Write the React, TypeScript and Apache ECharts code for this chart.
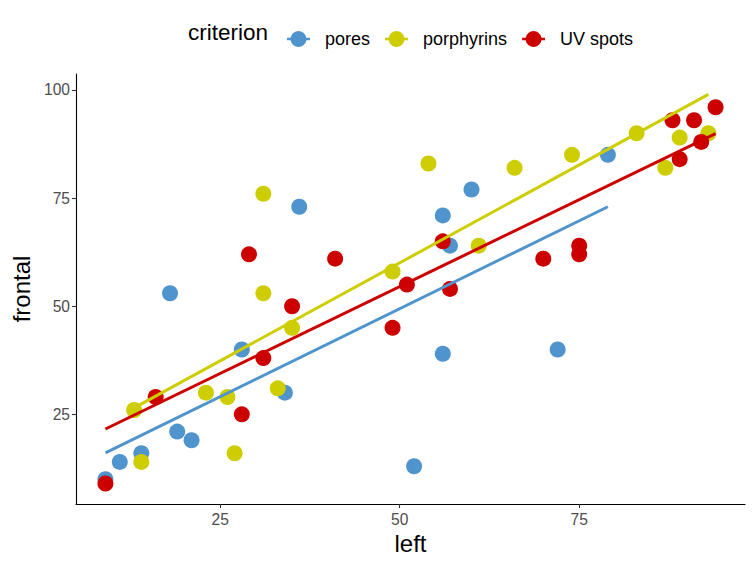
import React, { useEffect, useRef } from "react";
import * as echarts from "echarts";

const groups = ["pores", "porphyrins", "UV spots"];
const colors = ["#4F94CD", "#CDCD00", "#CD0000"];

const poresLeft = [9, 11, 14, 18, 19, 21, 28, 34, 36, 52, 56, 56, 57, 60, 72, 79];
const poresFrontal = [10, 14, 16, 53, 21, 19, 40, 30, 73, 13, 39, 71, 64, 77, 40, 85];

const porphLeft = [13, 14, 23, 26, 27, 31, 31, 33, 35, 49, 54, 61, 66, 74, 83, 87, 89, 93];
const porphFrontal = [26, 14, 30, 29, 16, 53, 76, 31, 45, 58, 83, 64, 82, 85, 90, 82, 89, 90];

const uvLeft = [9, 16, 28, 29, 31, 35, 41, 49, 51, 56, 57, 70, 75, 75, 88, 89, 91, 92, 94];
const uvFrontal = [9, 29, 25, 62, 38, 50, 61, 45, 55, 65, 54, 61, 62, 64, 93, 84, 93, 88, 96];

// linear trend (lm fit) end points: [left, frontal]
const poresTrend = [[9, 16.1], [79, 73.0]];
const porphTrend = [[13, 26.5], [93, 99.0]];
const uvTrend = [[9, 21.6], [94, 89.9]];

const xTicks = [25, 50, 75];
const yTicks = [25, 50, 75, 100];

const groupLeft = [poresLeft, porphLeft, uvLeft];
const groupFrontal = [poresFrontal, porphFrontal, uvFrontal];
const groupTrend = [poresTrend, porphTrend, uvTrend];

const legendIcon =
  "path://M0,6.75H3.6A8,8 0 0,1 19.4,6.75H23V9.25H19.4A8,8 0 0,1 3.6,9.25H0Z";

export default function App() {
  const ref = useRef<HTMLDivElement>(null);
  useEffect(() => {
    if (!ref.current) return;
    const chart = echarts.init(ref.current, undefined, { renderer: "svg" });
    const font = "'Liberation Sans', Arial, Helvetica, sans-serif";
    const scatterSeries = groups.map((g, i) => ({
      type: "scatter",
      name: g,
      data: groupLeft[i].map((x, j) => [x, groupFrontal[i][j]]),
      symbol: "circle",
      symbolSize: 16,
      itemStyle: { color: colors[i], opacity: 1 },
      z: 2,
    }));
    const lineSeries = groups.map((g, i) => ({
      type: "line",
      name: g,
      data: groupTrend[i],
      showSymbol: false,
      symbol: "none",
      lineStyle: { color: colors[i], width: 3 },
      itemStyle: { color: colors[i] },
      z: 3,
    }));
    chart.setOption({
      animation: false,
      backgroundColor: "#ffffff",
      textStyle: { fontFamily: font },
      grid: { left: 76, right: 10, top: 74, bottom: 62 },
      legend: {
        left: 282,
        top: 25,
        itemWidth: 23,
        itemHeight: 16,
        itemGap: 15,
        data: groups.map((g, i) => ({ name: g, icon: legendIcon, itemStyle: { color: colors[i] } })),
        textStyle: { fontSize: 18, color: "#000", fontFamily: font, padding: [0, 0, 0, 10] },
      },
      graphic: [
        {
          type: "text",
          left: 188,
          top: 21,
          style: { text: "criterion", fontSize: 22.5, fill: "#000", fontFamily: font },
        },
      ],
      xAxis: {
        type: "value",
        min: 4.9,
        max: 98.1,
        name: "left",
        nameLocation: "middle",
        nameGap: 26,
        nameTextStyle: { fontSize: 24, color: "#000", fontFamily: font },
        axisLine: { show: true, lineStyle: { color: "#000", width: 1.1 } },
        axisTick: { show: true, length: 4, customValues: xTicks, lineStyle: { color: "#333", width: 1.1 } },
        axisLabel: { customValues: xTicks, fontSize: 15.6, color: "#4D4D4D", margin: 7, fontFamily: font },
        splitLine: { show: false },
      },
      yAxis: {
        type: "value",
        min: 4.26,
        max: 103.7,
        name: "frontal",
        nameLocation: "middle",
        nameRotate: 90,
        nameGap: 42,
        nameTextStyle: { fontSize: 24, color: "#000", fontFamily: font },
        axisLine: { show: true, lineStyle: { color: "#000", width: 1.1 } },
        axisTick: { show: true, length: 4, customValues: yTicks, lineStyle: { color: "#333", width: 1.1 } },
        axisLabel: { customValues: yTicks, fontSize: 15.6, color: "#4D4D4D", margin: 6, fontFamily: font },
        splitLine: { show: false },
      },
      series: [...scatterSeries, ...lineSeries],
    });
    return () => chart.dispose();
  }, []);
  return (
    <div
      ref={ref}
      style={{ position: "fixed", left: 0, top: 0, width: 755, height: 566, background: "#fff" }}
    />
  );
}
